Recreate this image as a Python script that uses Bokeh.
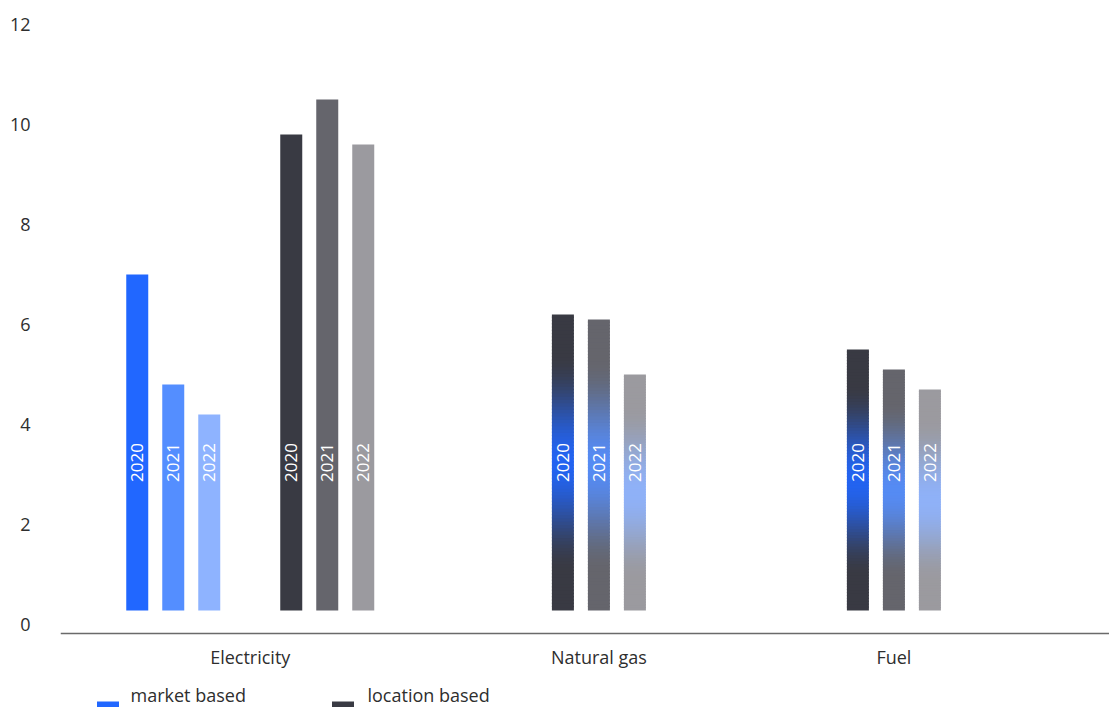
import math
from bokeh.plotting import figure
from bokeh.models import Range1d, FixedTicker, Span
from bokeh.core.properties import value
from bokeh.embed import file_html
from bokeh.resources import INLINE

# ---------------- data ----------------
categories = ["Electricity", "Natural gas", "Fuel"]
years = ["2020", "2021", "2022"]
electricity_market = [7.0, 4.8, 4.2]
electricity_location = [9.8, 10.5, 9.6]
natural_gas = [6.2, 6.1, 5.0]      # identical under market and location based
fuel = [5.5, 5.1, 4.7]             # identical under market and location based
y_ticks = [0, 2, 4, 6, 8, 10, 12]
legend_labels = ["market based", "location based"]

# ---------------- style / layout ----------------
FONT = "Open Sans"
TEXT_COLOR = "#2e2e2e"
market_colors = ["#2167ff", "#548eff", "#8eb3ff"]
location_colors = ["#393a43", "#65656c", "#9b9a9f"]

GROUP_X = [189.75, 538.4, 833.4]
STEP = 36
BAR_W = 22
SUB_OFFSET = 77
BAR_BASE = 0.28
YEAR_LABEL_Y = 3.24
CAT_LABEL_Y = -0.64
AXIS_Y = -0.18
LEGEND_SQ_X = [47.5, 282.5]
LEGEND_TXT_X = [70, 307]
LEGEND_SQ_TOP = -1.54
LEGEND_TXT_Y = -1.40
N_SLICES = 90


def hex_to_rgb(h):
    h = h.lstrip("#")
    return tuple(int(h[i:i + 2], 16) for i in (0, 2, 4))


def mix(c1, c2, w):
    a, b = hex_to_rgb(c1), hex_to_rgb(c2)
    return "#%02x%02x%02x" % tuple(int(round(a[i] * (1 - w) + b[i] * w)) for i in range(3))


p = figure(width=1109, height=707, output_backend="svg", toolbar_location=None,
           x_range=Range1d(0, 1049), y_range=Range1d(-1.66, 12.48),
           x_axis_location=None, min_border_left=60, min_border_right=0,
           min_border_top=0, min_border_bottom=0)
p.outline_line_color = None
p.grid.visible = False
p.background_fill_color = "white"
p.border_fill_color = "white"

ax = p.yaxis[0]
ax.ticker = FixedTicker(ticks=y_ticks)
ax.axis_line_color = None
ax.major_tick_line_color = None
ax.minor_tick_line_color = None
ax.major_tick_out = 0
ax.major_tick_in = 0
ax.minor_tick_out = 0
ax.major_label_standoff = 30
ax.major_label_text_font = FONT
ax.major_label_text_font_size = "18px"
ax.major_label_text_color = TEXT_COLOR

# Baseline axis line
p.add_layout(Span(location=AXIS_Y, dimension="width", line_color="#6a6a6a", line_width=1.6))

# ---------- Electricity: separate market / location bars ----------
for j, (vals, cols, sign) in enumerate([(electricity_market, market_colors, -1),
                                        (electricity_location, location_colors, 1)]):
    xs = [GROUP_X[0] + sign * SUB_OFFSET + (i - 1) * STEP for i in range(3)]
    p.vbar(x=xs, top=vals, bottom=BAR_BASE, width=BAR_W, fill_color=cols,
           line_color=None)
    p.text(x=xs, y=[YEAR_LABEL_Y] * 3, text=years, angle=math.pi / 2,
           text_align="center", text_baseline="middle", text_color="white",
           text_font=value(FONT), text_font_size="17px")

# ---------- Natural gas & Fuel: same value for both methods -> gradient ----------
for k, vals in [(1, natural_gas), (2, fuel)]:
    xs = [GROUP_X[k] + (i - 1) * STEP for i in range(3)]
    for i in range(3):
        top = vals[i]
        h = top - BAR_BASE
        dh = h / N_SLICES
        lefts, rights, bots, tops, cols = [], [], [], [], []
        for s in range(N_SLICES):
            f = (s + 0.5) / N_SLICES
            d = abs(f - 0.5)
            w = 0.5 * (1 + math.cos(math.pi * d / 0.37)) if d < 0.37 else 0.0
            cols.append(mix(location_colors[i], market_colors[i], w * 0.92))
            lefts.append(xs[i] - BAR_W / 2)
            rights.append(xs[i] + BAR_W / 2)
            bots.append(BAR_BASE + s * dh)
            tops.append(min(top, BAR_BASE + (s + 1.4) * dh))
        p.quad(left=lefts, right=rights, bottom=bots, top=tops, fill_color=cols,
               line_color=None)
    p.text(x=xs, y=[YEAR_LABEL_Y] * 3, text=years, angle=math.pi / 2,
           text_align="center", text_baseline="middle", text_color="white",
           text_font=value(FONT), text_font_size="17px")

# ---------- category labels ----------
p.text(x=GROUP_X, y=[CAT_LABEL_Y] * 3, text=categories, text_align="center",
       text_baseline="middle", text_color=TEXT_COLOR, text_font=value(FONT),
       text_font_size="18px")

# ---------- legend ----------
p.rect(x=LEGEND_SQ_X, y=[LEGEND_SQ_TOP - 0.22] * 2, width=BAR_W, height=0.44,
       fill_color=[market_colors[0], location_colors[0]], line_color=None)
p.text(x=LEGEND_TXT_X, y=[LEGEND_TXT_Y] * 2, text=legend_labels, text_align="left",
       text_baseline="middle", text_color=TEXT_COLOR, text_font=value(FONT),
       text_font_size="18px")

open("out.html", "w").write(file_html(p, INLINE))
